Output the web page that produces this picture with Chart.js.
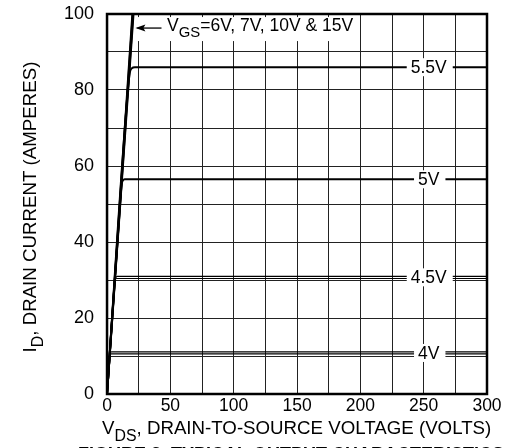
<!DOCTYPE html>
<html lang="en">
<head>
<meta charset="UTF-8" />
<title>Typical Output Characteristics</title>
<style>
  body { margin: 0; overflow: hidden; background: #fff; }
  #wrap { width: 506px; height: 460px; }
</style>
</head>
<body>
<div id="wrap"><canvas id="chart" width="506" height="460"></canvas></div>
<script src="https://cdn.jsdelivr.net/npm/chart.js@4.4.0/dist/chart.umd.min.js"></script>
<script>
// drain curves (VDS in volts, ID in amperes)
const vds15 = [0, 20.0];      const id15 = [0, 100];
const vds10 = [0, 20.3];      const id10 = [0, 100];
const vds7  = [0, 20.6];      const id7  = [0, 100];
const vds6  = [0, 20.9];      const id6  = [0, 100];
const vds55 = [0, 16.4, 18.0, 19.5, 22.0, 300]; const id55 = [0, 80, 84.6, 85.7, 86.0, 86.0];
const vds5  = [0, 10.5, 11.5, 12.5, 14.0, 300]; const id5  = [0, 51, 55.0, 56.2, 56.5, 56.5];
const vds45a = [0, 5.6, 6.4, 7.6, 300];         const id45a = [0, 27.5, 29.9, 30.4, 30.4];
const vds45b = [0, 5.8, 6.6, 8.0, 300];         const id45b = [0, 28.3, 30.4, 30.95, 30.95];
const vds4a = [0, 1.9, 2.4, 3.4, 300];          const id4a = [0, 9.5, 10.3, 10.55, 10.55];
const vds4b = [0, 2.0, 2.5, 3.5, 300];          const id4b = [0, 9.9, 10.8, 11.1, 11.1];

const curveLabels = ['5.5V', '5V', '4.5V', '4V'];
const curveLevels = [86.0, 56.5, 30.7, 10.8];
const labelVds = 254;

const xTicks = [0, 50, 100, 150, 200, 250, 300];
const yTicks = [0, 20, 40, 60, 80, 100];

const FONT = '"Liberation Sans", Arial, Helvetica, sans-serif';
const FS = 17.5;

function pts(xs, ys) {
  return xs.map((x, i) => ({ x: x, y: ys[i] }));
}

function line(xs, ys, w) {
  return {
    data: pts(xs, ys),
    borderColor: '#000',
    borderWidth: w,
    pointRadius: 0,
    fill: false,
    cubicInterpolationMode: 'monotone'
  };
}

// draw text made of parts: [text, isSubscript]
function drawParts(ctx, parts, x, y, size) {
  let cx = x;
  parts.forEach(p => {
    const s = p[1] ? size * 0.85 : size;
    ctx.font = s + 'px ' + FONT;
    const dy = p[1] ? size * 0.4 : 0;
    ctx.fillText(p[0], cx, y + dy);
    cx += ctx.measureText(p[0]).width;
  });
}
function partsWidth(ctx, parts, size) {
  let w = 0;
  parts.forEach(p => {
    ctx.font = (p[1] ? size * 0.85 : size) + 'px ' + FONT;
    w += ctx.measureText(p[0]).width;
  });
  return w;
}

const annotations = {
  id: 'annotations',
  afterDatasetsDraw(chart) {
    const ctx = chart.ctx;
    const xs = chart.scales.x, ys = chart.scales.y;
    const a = chart.chartArea;
    ctx.save();
    ctx.textBaseline = 'middle';
    ctx.textAlign = 'left';

    // curve labels on white boxes
    ctx.font = FS + 'px ' + FONT;
    curveLabels.forEach((t, i) => {
      const w = ctx.measureText(t).width;
      const cx = xs.getPixelForValue(labelVds);
      const cy = ys.getPixelForValue(curveLevels[i]);
      ctx.fillStyle = '#fff';
      ctx.fillRect(cx - w / 2 - 4, cy - 9, w + 10, 18);
      ctx.fillStyle = '#000';
      ctx.fillText(t, cx - w / 2, cy + 1);
    });

    // VGS label with arrow
    const ay = ys.getPixelForValue(96.3);
    const tip = xs.getPixelForValue(22.4);
    const tail = xs.getPixelForValue(43);
    const tx = xs.getPixelForValue(47.4);
    const parts = [['V', false], ['GS', true], ['=6V, 7V, 10V & 15V', false]];
    const tw = partsWidth(ctx, parts, FS);
    ctx.fillStyle = '#fff';
    ctx.fillRect(tip, ay - 11, tx - tip + tw + 4, 24);
    ctx.strokeStyle = '#000';
    ctx.lineWidth = 1.3;
    ctx.beginPath();
    ctx.moveTo(tip + 2, ay);
    ctx.lineTo(tail, ay);
    ctx.stroke();
    ctx.beginPath();
    ctx.moveTo(tip, ay);
    ctx.lineTo(tip + 10, ay - 3.5);
    ctx.lineTo(tip + 8, ay);
    ctx.lineTo(tip + 10, ay + 3.5);
    ctx.closePath();
    ctx.fillStyle = '#000';
    ctx.fill();
    drawParts(ctx, parts, tx, ay - 2, FS);

    // frame
    ctx.strokeStyle = '#000';
    ctx.lineWidth = 2.5;
    ctx.strokeRect(a.left, a.top, a.right - a.left, a.bottom - a.top);
    ctx.restore();
  },
  afterDraw(chart) {
    const ctx = chart.ctx;
    ctx.save();
    ctx.fillStyle = '#000';
    ctx.textBaseline = 'middle';
    ctx.textAlign = 'left';

    // x axis title
    const xp = [['V', false], ['DS', true], [', DRAIN-TO-SOURCE VOLTAGE (VOLTS)', false]];
    drawParts(ctx, xp, 102, 429, 18.7);

    // y axis title
    const yp = [['I', false], ['D', true], [', DRAIN CURRENT (AMPERES)', false]];
    const yw = partsWidth(ctx, yp, 18.7);
    ctx.translate(31, 207);
    ctx.rotate(-Math.PI / 2);
    drawParts(ctx, yp, -yw / 2, 0, 18.7);
    ctx.setTransform(1, 0, 0, 1, 0, 0);

    // figure caption (cut off by the window)
    ctx.font = 'bold 18px ' + FONT;
    ctx.textBaseline = 'alphabetic';
    ctx.fillText('FIGURE 3. TYPICAL OUTPUT CHARACTERISTICS', 78, 460);
    ctx.restore();
  }
};

const ctx = document.getElementById('chart').getContext('2d');
new Chart(ctx, {
  type: 'line',
  data: {
    datasets: [
      line(vds15, id15, 2),
      line(vds10, id10, 2),
      line(vds7, id7, 2),
      line(vds6, id6, 2),
      line(vds55, id55, 2),
      line(vds5, id5, 2),
      line(vds45a, id45a, 1.2),
      line(vds45b, id45b, 1.2),
      line(vds4a, id4a, 1.2),
      line(vds4b, id4b, 1.2)
    ]
  },
  options: {
    responsive: false,
    animation: false,
    layout: { autoPadding: false, padding: { left: 51, top: 14, right: 19, bottom: 41 } },
    plugins: { legend: { display: false }, tooltip: { enabled: false } },
    scales: {
      x: {
        type: 'linear', min: 0, max: 300,
        ticks: {
          stepSize: 25, autoSkip: false, maxRotation: 0, padding: 2,
          color: '#000', font: { family: FONT, size: FS },
          callback: v => xTicks.includes(v) ? v : ''
        },
        grid: { color: '#222', lineWidth: 1, drawTicks: false },
        border: { display: false }
      },
      y: {
        type: 'linear', min: 0, max: 100,
        ticks: {
          stepSize: 10, autoSkip: false, padding: 13,
          color: '#000', font: { family: FONT, size: 18, lineHeight: 0.05 },
          callback: v => yTicks.includes(v) ? v : ''
        },
        grid: { color: '#222', lineWidth: 1, drawTicks: false },
        border: { display: false }
      }
    }
  },
  plugins: [annotations]
});
</script>
</body>
</html>
